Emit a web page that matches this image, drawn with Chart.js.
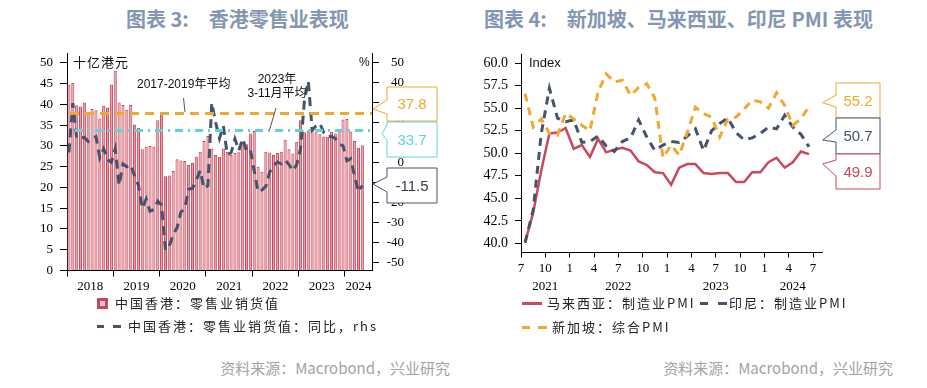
<!DOCTYPE html>
<html lang="zh-CN">
<head>
<meta charset="utf-8">
<title>香港零售业表现；新加坡、马来西亚、印尼 PMI 表现</title>
<script src="https://cdn.jsdelivr.net/npm/chart.js@4.4.1/dist/chart.umd.min.js"></script>
<style>
  html, body { margin: 0; padding: 0; background: #fff; }
  body { width: 927px; height: 388px; position: relative; overflow: hidden; font-family: "Noto Sans CJK SC", sans-serif; }
  .box { position: absolute; }
  .t { position: absolute; white-space: pre; line-height: 1; }
  .title { font-size: 20px; font-weight: bold; color: #8496b0; }
  .lg { font-size: 13px; letter-spacing: 2px; color: #222; }
  .src { font-size: 15px; color: #a3a3a3; }
  .note { font-size: 12px; color: #111; font-family: "Liberation Sans", "Noto Sans CJK SC", sans-serif; }
  .mk { position: absolute; height: 3px; }
</style>
</head>
<body>

<!-- 左图：香港零售 -->
<div class="t title" style="left:126px; top:9px;">图表 3:<span style="margin-left:20px;">香港零售业表现</span></div>
<div class="box" style="left:0; top:0;"><canvas id="hkChart" width="463" height="300"></canvas></div>
<div class="t note" style="left:73px; top:55px; font-size:13px; letter-spacing:1px; font-family:'Noto Sans CJK SC';">十亿港元</div>
<div class="t note" style="left:359px; top:56px;">%</div>
<div class="t note" style="left:137px; top:78px;">2017-2019年平均</div>
<div class="t note" style="left:238px; top:72px; width:78px; text-align:center; line-height:14px;">2023年
3-11月平均</div>

<div class="box" style="left:97px; top:298px; width:11px; height:11px; box-sizing:border-box; border:3px solid #c8465a; background:#f3c9ce;"></div>
<div class="t lg" style="left:115px; top:296px;">中国香港：零售业销货值</div>
<div class="mk" style="left:97px; top:325px; width:7px; background:#44546a;"></div>
<div class="mk" style="left:113px; top:325px; width:8px; background:#44546a;"></div>
<div class="t lg" style="left:128px; top:319px;">中国香港：零售业销货值：同比，rhs</div>
<div class="t src" style="right:477px; top:360px;">资料来源：Macrobond，兴业研究</div>

<!-- 右图：PMI -->
<div class="t title" style="left:484px; top:9px;">图表 4:<span style="margin-left:20px;">新加坡、马来西亚、印尼 PMI 表现</span></div>
<div class="box" style="left:463px; top:0;"><canvas id="pmiChart" width="464" height="300"></canvas></div>
<div class="t note" style="left:529px; top:56px; font-size:13px;">Index</div>

<div class="mk" style="left:522px; top:302px; width:20px; background:#c9485b;"></div>
<div class="t lg" style="left:547px; top:296px;">马来西亚：制造业PMI</div>
<div class="mk" style="left:700px; top:302px; width:8px; background:#44546a;"></div>
<div class="mk" style="left:718px; top:302px; width:9px; background:#44546a;"></div>
<div class="t lg" style="left:729px; top:296px;">印尼：制造业PMI</div>
<div class="mk" style="left:522px; top:326px; width:8px; background:#f0a830;"></div>
<div class="mk" style="left:538px; top:326px; width:9px; background:#f0a830;"></div>
<div class="t lg" style="left:552px; top:320px;">新加坡：综合PMI</div>
<div class="t src" style="right:34px; top:360px;">资料来源：Macrobond，兴业研究</div>

<svg class="box" style="left:0; top:0;" width="927" height="388">
  <line x1="183.5" y1="98" x2="185" y2="112" stroke="#555" stroke-width="1"/>
  <line x1="276" y1="108" x2="269.5" y2="130" stroke="#555" stroke-width="1"/>
</svg>

<script>
// ---- 数据：香港零售业 (2018-01 ~ 2024-05)
const hkYears = ['2018', '2019', '2020', '2021', '2022', '2023', '2024'];
const hkRetailSales = [
    44.8, 45.2, 39.8, 39.5, 40.5, 38.0, 38.9, 38.6, 36.6, 39.7, 39.3, 44.8,
    48.1, 40.5, 39.9, 38.7, 39.9, 35.2, 34.4, 29.2, 29.8, 30.0, 29.8, 36.2,
    37.7, 22.7, 22.9, 24.0, 26.8, 26.5, 26.4, 25.4, 25.9, 27.4, 28.6, 31.2,
    32.4, 29.4, 27.8, 27.4, 29.4, 28.6, 27.8, 28.3, 28.5, 30.6, 30.4, 33.0,
    33.6, 25.0, 23.8, 28.6, 28.4, 27.8, 28.3, 28.6, 31.5, 29.2, 28.2, 31.0,
    36.2, 33.3, 33.6, 34.6, 33.3, 32.8, 32.3, 32.2, 33.4, 33.0, 33.8, 36.4,
    36.5, 33.5, 31.2, 29.6, 30.2
];
const hkRetailYoY = [
    5.1, 29.8, 12.2, 12.3, 12.6, 10.6, 11.9, 13.0, 2.4, 6.9, 1.4, 0.1,
    7.0, -11.5, -0.7, -2.1, -1.1, -6.7, -11.4, -23.0, -18.3, -24.4, -23.6, -19.4,
    -21.4, -44.0, -42.0, -36.1, -32.8, -24.8, -23.1, -13.4, -12.9, -8.8, -4.0, -13.0,
    -11.6, 30.0, 20.1, 12.1, 18.4, 4.0, 4.9, 11.9, 6.1, 12.0, 5.8, 6.5,
    -4.4, -14.7, -13.8, -11.9, -4.8, -1.7, 0.3, -0.6, 1.2, -1.0, -4.2, -1.0,
    7.0, 31.3, 40.9, 16.3, 18.4, 19.6, 15.1, 13.0, 13.1, 12.1, 9.1, 8.5,
    0.9, 1.9, -7.0, -14.7, -11.5
];
const hkAvgValues = [37.8, 33.7];   // 2017-2019年平均, 2023年3-11月平均
const hkLeftTicks = [0, 5, 10, 15, 20, 25, 30, 35, 40, 45, 50];
const hkRightTicks = [-50, -40, -30, -20, -10, 0, 10, 20, 30, 40, 50];

// ---- 数据：PMI (2021-07 ~ 2024-06)
const malaysiaPMI = [
    40.1, 43.4, 48.1, 52.2, 52.3, 52.8,
    50.5, 50.9, 49.6, 51.6, 50.1, 50.4, 50.6, 50.3, 49.1, 48.7, 47.9, 47.8,
    46.5, 48.4, 48.8, 48.8, 47.8, 47.7, 47.8, 47.8, 46.8, 46.8, 47.9, 47.9,
    49.0, 49.5, 48.4, 49.0, 50.2, 49.9
];
const indonesiaPMI = [
    40.1, 43.7, 52.2, 57.2, 53.9, 53.5,
    53.7, 51.2, 51.3, 51.9, 50.8, 50.2, 51.3, 51.7, 53.7, 51.8, 50.3, 50.9,
    51.3, 51.2, 51.9, 52.7, 50.3, 52.5, 53.3, 53.9, 52.3, 51.5, 51.7, 52.2,
    52.9, 52.7, 54.2, 52.9, 52.1, 50.7
];
const singaporePMI = [
    56.6, 52.9, 53.8, 52.2, 52.0, 54.4,
    53.8, 53.1, 52.5, 56.8, 58.8, 57.9, 58.1, 56.4, 57.3, 57.7, 56.1, 49.5,
    50.9, 49.8, 52.3, 55.1, 54.4, 54.0, 51.8, 53.8, 54.0, 54.9, 55.9, 55.7,
    55.0, 56.7, 55.3, 53.1, 53.8, 55.2
];
const pmiMonthTicks = ['7', '10', '1', '4', '7', '10', '1', '4', '7', '10', '1', '4', '7'];
const pmiYears = ['2021', '2022', '2023', '2024'];
const pmiLeftTicks = [40, 42.5, 45, 47.5, 50, 52.5, 55, 57.5, 60];

// 月份类别
const hkMonths = [];
hkYears.forEach(y => {
    for (let m = 1; m <= 12; m++) if (hkMonths.length < 79) hkMonths.push(y + '-' + m);
});
const pmiMonths = malaysiaPMI.map((_, i) => i);   // 自 2021-07 起的月序号
const toPoints = arr => arr.map((v, i) => ({ x: pmiMonths[i] + 0.5, y: v }));

Chart.defaults.font.family = "'Liberation Serif', serif";
Chart.defaults.color = '#000';

const RED = '#c9485b', SLATE = '#44546a', ORANGE = '#f0a830', CYAN = '#62d4d4';

function drawCallout(ctx, c) {
    const [bx, by, bw, bh] = c.box;
    ctx.save();
    ctx.beginPath();
    ctx.moveTo(bx, by);
    ctx.lineTo(bx + bw, by);
    ctx.lineTo(bx + bw, by + bh);
    ctx.lineTo(bx, by + bh);
    ctx.lineTo(bx, c.notch[1]);
    ctx.lineTo(c.tip[0], c.tip[1]);
    ctx.lineTo(bx, c.notch[0]);
    ctx.closePath();
    ctx.fillStyle = '#fff';
    ctx.fill();
    ctx.lineWidth = 1;
    ctx.strokeStyle = c.color;
    ctx.stroke();
    ctx.fillStyle = c.textColor || c.color;
    ctx.font = "15px 'Liberation Sans', sans-serif";
    ctx.textAlign = 'center';
    ctx.textBaseline = 'middle';
    ctx.fillText(c.text, bx + bw / 2, by + bh / 2 + 1);
    ctx.restore();
}

// --- 左图插件：均值线、年份标签、标注框
const hkOverlay = {
    id: 'hkOverlay',
    afterDatasetsDraw(chart) {
        const { ctx, chartArea: a, scales: { y } } = chart;
        const styles = [
            { color: ORANGE, dash: [9, 6] },
            { color: CYAN, dash: [8, 5, 2, 5] }
        ];
        ctx.save();
        hkAvgValues.forEach((v, i) => {
            const py = y.getPixelForValue(v);
            ctx.beginPath();
            ctx.setLineDash(styles[i].dash);
            ctx.lineWidth = 3;
            ctx.strokeStyle = styles[i].color;
            ctx.moveTo(a.left + 3 + i * 5, py);
            ctx.lineTo(a.right, py);
            ctx.stroke();
        });
        ctx.restore();
    },
    afterDraw(chart) {
        const { ctx, scales: { x } } = chart;
        ctx.save();
        ctx.font = "13px 'Liberation Serif', serif";
        ctx.fillStyle = '#000';
        ctx.textAlign = 'center';
        ctx.textBaseline = 'middle';
        hkYears.forEach((yr, k) => {
            const m0 = k * 12, m1 = Math.min(k * 12 + 12, hkMonths.length);
            const px = (x.getPixelForValue(m0 - 0.5) + x.getPixelForValue(m1 - 0.5)) / 2;
            ctx.fillText(yr, px, 287);
        });
        ctx.restore();
        const lastYoY = hkRetailYoY[hkRetailYoY.length - 1];
        [
            { text: hkAvgValues[0].toFixed(1), color: ORANGE, box: [387, 87, 50, 34], notch: [100, 114], tip: [373, 109] },
            { text: hkAvgValues[1].toFixed(1), color: CYAN, box: [387, 122, 50, 35], notch: [125, 140], tip: [382, 134] },
            { text: lastYoY.toFixed(1), color: SLATE, textColor: '#333c48', box: [387, 168, 50, 35], notch: [177, 192], tip: [373, 184] }
        ].forEach(c => drawCallout(ctx, c));
    }
};

new Chart(document.getElementById('hkChart'), {
    type: 'bar',
    data: {
        labels: hkMonths,
        datasets: [
            {
                type: 'line', label: '中国香港：零售业销货值：同比，rhs', data: hkRetailYoY, yAxisID: 'y1',
                borderColor: SLATE, borderWidth: 3, borderDash: [9, 6], pointRadius: 0, tension: 0, order: 0
            },
            {
                type: 'bar', label: '中国香港：零售业销货值', data: hkRetailSales, yAxisID: 'y',
                backgroundColor: '#e99aa4', borderColor: '#c8465a', borderWidth: 1,
                barPercentage: 0.8, categoryPercentage: 1, order: 1
            }
        ]
    },
    options: {
        responsive: false, animation: false,
        layout: { padding: { top: 53, right: 59, left: 0, bottom: 0 } },
        plugins: { legend: { display: false }, tooltip: { enabled: false } },
        scales: {
            x: {
                offset: true,
                grid: {
                    offset: true, drawOnChartArea: false, tickLength: 6,
                    color: c => (c.index % 12 === 0 && c.index < hkMonths.length) ? '#000' : 'rgba(0,0,0,0)'
                },
                border: { color: '#000' },
                ticks: { display: false },
                afterFit: s => { s.height = 29.5; }
            },
            y: {
                position: 'left', min: 0, max: 52.4,
                afterBuildTicks: s => { s.ticks = hkLeftTicks.map(v => ({ value: v })); },
                grid: { drawOnChartArea: false, tickLength: 7, color: '#000' },
                border: { color: '#000' },
                ticks: { padding: 7, font: { size: 13 }, color: '#000' },
                afterFit: s => { s.width = 67; }
            },
            y1: {
                position: 'right', min: -54.2, max: 55.0,
                afterBuildTicks: s => { s.ticks = hkRightTicks.map(v => ({ value: v })); },
                grid: { drawOnChartArea: false, tickLength: 7, color: '#000' },
                border: { color: '#000' },
                ticks: { padding: 7, crossAlign: 'far', font: { size: 13 }, color: '#000' },
                afterFit: s => { s.width = 32; }
            }
        }
    },
    plugins: [hkOverlay]
});

// --- 右图插件：年份标签、标注框
const pmiOverlay = {
    id: 'pmiOverlay',
    afterDraw(chart) {
        const { ctx, scales: { x } } = chart;
        const yearAt = [3, 12, 24, 33.5];
        ctx.save();
        ctx.font = "13px 'Liberation Serif', serif";
        ctx.fillStyle = '#000';
        ctx.textAlign = 'center';
        ctx.textBaseline = 'middle';
        pmiYears.forEach((yr, i) => ctx.fillText(yr, x.getPixelForValue(yearAt[i]), 287));
        ctx.restore();
        const last = arr => arr[arr.length - 1].toFixed(1);
        [
            { text: last(singaporePMI), color: ORANGE, box: [373, 83, 44, 35], notch: [95, 107], tip: [359.7, 102.7] },
            { text: last(indonesiaPMI), color: SLATE, box: [373, 118, 44, 36], notch: [130, 142], tip: [359.7, 140] },
            { text: last(malaysiaPMI), color: RED, box: [373, 154, 44, 35], notch: [160, 176], tip: [359.7, 164] }
        ].forEach(c => drawCallout(ctx, c));
    }
};

new Chart(document.getElementById('pmiChart'), {
    type: 'line',
    data: {
        datasets: [
            { label: '马来西亚：制造业PMI', data: toPoints(malaysiaPMI), borderColor: RED, borderWidth: 2.5, order: 2 },
            { label: '印尼：制造业PMI', data: toPoints(indonesiaPMI), borderColor: SLATE, borderWidth: 3, borderDash: [8, 6], order: 1 },
            { label: '新加坡：综合PMI', data: toPoints(singaporePMI), borderColor: ORANGE, borderWidth: 3, borderDash: [8, 6], order: 0 }
        ]
    },
    options: {
        responsive: false, animation: false,
        elements: { point: { radius: 0 }, line: { tension: 0 } },
        layout: { padding: { top: 54, right: 105, left: 0, bottom: 0 } },
        plugins: { legend: { display: false }, tooltip: { enabled: false } },
        scales: {
            x: {
                type: 'linear', min: 0, max: 37.1,
                afterBuildTicks: s => { s.ticks = pmiMonthTicks.map((_, i) => ({ value: i * 3 })); },
                grid: { drawOnChartArea: false, tickLength: 5, color: '#000' },
                border: { color: '#000' },
                ticks: { callback: (v, i) => pmiMonthTicks[i], padding: 3, font: { size: 13 }, maxRotation: 0, autoSkip: false, color: '#000' },
                afterFit: s => { s.height = 47.5; }
            },
            y: {
                min: 39, max: 61,
                afterBuildTicks: s => { s.ticks = pmiLeftTicks.map(v => ({ value: v })); },
                grid: { drawOnChartArea: false, tickLength: 6, color: '#000' },
                border: { color: '#000' },
                ticks: { callback: v => v.toFixed(1), padding: 7, font: { size: 14 }, color: '#000' },
                afterFit: s => { s.width = 58; }
            }
        }
    },
    plugins: [pmiOverlay]
});
</script>
</body>
</html>
